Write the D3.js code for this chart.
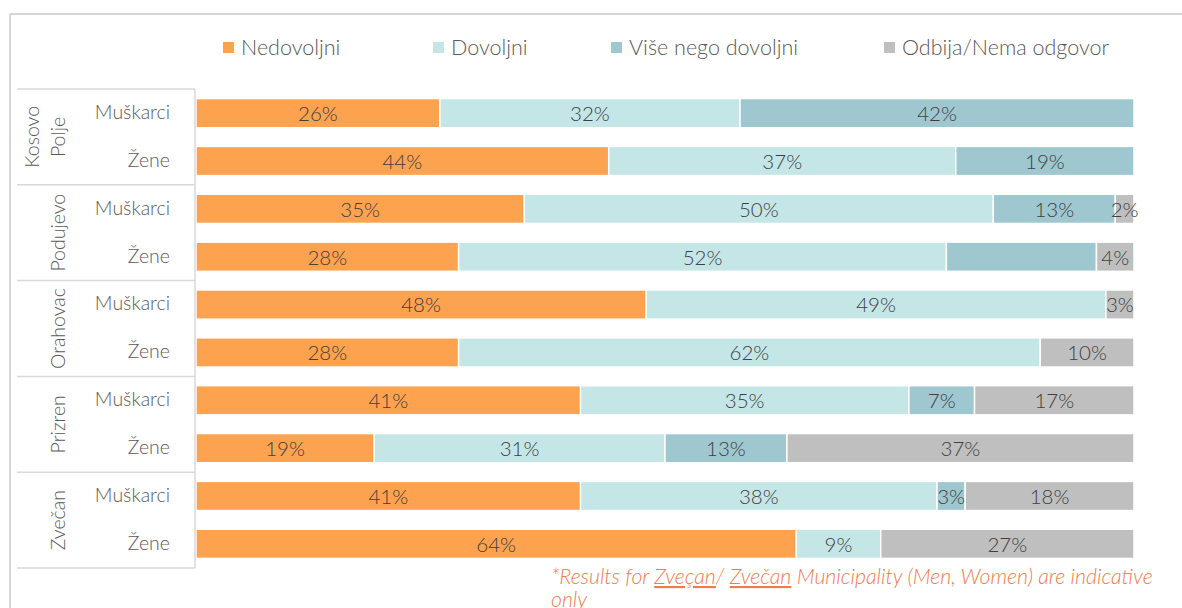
<!DOCTYPE html>
<html><head><meta charset="utf-8">
<script src="https://cdn.jsdelivr.net/npm/d3@7"></script>
<style>
html,body{margin:0;padding:0;background:#fff;}
svg{display:block;font-family:Lato,"Open Sans",sans-serif;font-weight:300;}
</style></head>
<body><svg id="c" width="1182" height="608"></svg>
<script>
const groups = ["Kosovo Polje", "Podujevo", "Orahovac", "Prizren", "Zvečan"];
const genders = ["Muškarci", "Žene"];
const seriesNames = ["Nedovoljni", "Dovoljni", "Više nego dovoljni", "Odbija/Nema odgovor"];
const nedovoljni = [26, 44, 35, 28, 48, 28, 41, 19, 41, 64];
const dovoljni   = [32, 37, 50, 52, 49, 62, 35, 31, 38, 9];
const viseNego   = [42, 19, 13, 16, 0, 0, 7, 13, 3, 0];
const odbija     = [0, 0, 2, 4, 3, 10, 17, 37, 18, 27];
const hiddenLabels = [[3, 2]]; // [row, series] with no data label in the original
const colors = ["#FDA24F", "#C5E6E7", "#9EC7D0", "#BFBFBF"];
const footnoteParts = [
  {t: "*Results  for ", u: false}, {t: "Zveçan", u: true}, {t: "/ ", u: false},
  {t: "Zvečan", u: true}, {t: " Municipality (Men, Women) are indicative", u: false}
];
const footnoteLine2 = "only";

const svg = d3.select("#c");
const seriesVals = [nedovoljni, dovoljni, viseNego, odbija];
const rows = [];
groups.forEach((g, gi) => genders.forEach((s, si) => rows.push({g, s, idx: gi * 2 + si})));

// frame
svg.append("line").attr("x1", 10).attr("x2", 1182).attr("y1", 14).attr("y2", 14).attr("stroke", "#C8C8C8").attr("stroke-width", 1.5);
svg.append("line").attr("x1", 10).attr("x2", 10).attr("y1", 14).attr("y2", 608).attr("stroke", "#C8C8C8").attr("stroke-width", 1.5);

const x = d3.scaleLinear().domain([0, 100]).range([196, 1134]);
const y = d3.scaleBand().domain(rows.map(r => r.idx)).range([89, 568]).paddingInner(0.39).paddingOuter(0.2);
const gBand = d3.scaleBand().domain(groups).range([89, 568]);

const stacked = d3.stack().keys(d3.range(4)).value((r, k) => seriesVals[k][r.idx])(rows);

const bars = svg.append("g");
stacked.forEach((layer, k) => {
  bars.selectAll(null).data(layer.filter(d => d[1] - d[0] > 0)).enter().append("rect")
    .attr("x", d => x(d[0]))
    .attr("y", d => y(d.data.idx))
    .attr("width", d => x(d[1]) - x(d[0]))
    .attr("height", y.bandwidth())
    .attr("fill", colors[k])
    .attr("stroke", "#fff").attr("stroke-width", 1.5);
});
const hidden = new Set(hiddenLabels.map(h => h.join(",")));
stacked.forEach((layer, k) => {
  bars.selectAll(null).data(layer.filter(d => d[1] - d[0] > 0 && !hidden.has(d.data.idx + "," + k))).enter().append("text")
    .attr("x", d => (x(d[0]) + x(d[1])) / 2)
    .attr("y", d => y(d.data.idx) + y.bandwidth() / 2)
    .attr("dy", "0.38em")
    .attr("text-anchor", "middle")
    .attr("font-size", 20.5).attr("fill", "#404040")
    .text(d => (d[1] - d[0]) + "%");
});

// category box
const box = svg.append("g").attr("stroke", "#D9D9D9").attr("stroke-width", 1.5);
box.append("line").attr("x1", 195).attr("x2", 195).attr("y1", 89).attr("y2", 568);
[89].concat(groups.map(g => gBand(g) + gBand.bandwidth())).forEach(v => {
  box.append("line").attr("x1", 17).attr("x2", 195).attr("y1", v).attr("y2", v);
});

// sub labels
svg.append("g").selectAll("text").data(rows).enter().append("text")
  .attr("x", 170).attr("y", r => y(r.idx) + y.bandwidth() / 2).attr("dy", "0.3em")
  .attr("text-anchor", "end").attr("font-size", 19.5).attr("fill", "#595959")
  .text(r => r.s);

// group labels (rotated)
groups.forEach(g => {
  const words = g.split(" ");
  const cy = gBand(g) + gBand.bandwidth() / 2;
  words.forEach((w, i) => {
    const cx = 58 - (words.length - 1 - i) * 26;
    svg.append("text").attr("transform", `translate(${cx},${cy}) rotate(-90)`)
      .attr("text-anchor", "middle").attr("dy", "0.35em")
      .attr("font-size", 19.5).attr("fill", "#595959").text(w);
  });
});

// legend
const legX = [223, 433, 611, 884];
const leg = svg.append("g");
seriesNames.forEach((n, i) => {
  leg.append("rect").attr("x", legX[i]).attr("y", 42).attr("width", 11).attr("height", 11).attr("fill", colors[i]);
  leg.append("text").attr("x", legX[i] + 18).attr("y", 47).attr("dy", "0.36em")
    .attr("font-size", 21.5).attr("fill", "#595959").text(n);
});

// footnote (size fitted to the reference's line width)
const fnColor = "#F27B4A";
const fn = svg.append("text").attr("x", 551).attr("y", 584).attr("font-size", 20)
  .attr("font-style", "italic").attr("fill", fnColor);
footnoteParts.forEach(p => {
  fn.append("tspan").attr("text-decoration", p.u ? "underline" : null).text(p.t);
});
const fnW = fn.node().getComputedTextLength();
const fnSize = 20 * 602 / fnW;
fn.attr("font-size", fnSize);
svg.append("text").attr("x", 551).attr("y", 607).attr("font-size", fnSize)
  .attr("font-style", "italic").attr("fill", fnColor).text(footnoteLine2);
</script></body></html>
